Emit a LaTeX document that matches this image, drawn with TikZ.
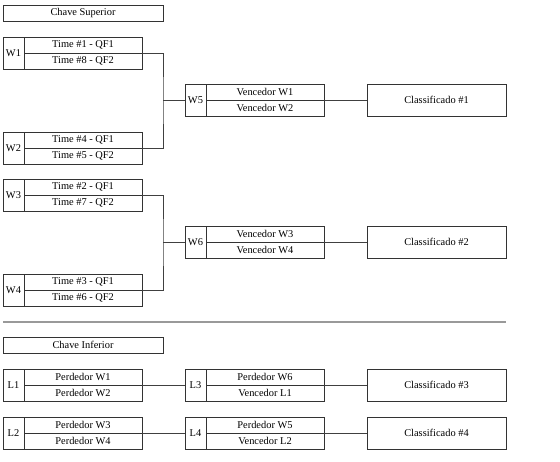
\documentclass[tikz,border=0pt]{standalone}
\usepackage{fontspec}
\setmainfont{Liberation Serif}
\begin{document}
\begin{tikzpicture}[x=1pt,y=-1pt,
  cell/.style={draw=black!80,line width=0.7pt,rectangle,inner sep=0pt,outer sep=0pt,anchor=north west,font=\fontsize{10.4}{12}\selectfont},
  link/.style={draw=black!75,line width=0.7pt},
  sep/.style={draw=black!40,line width=1.1pt}]
\useasboundingbox (0,0) rectangle (560,461);
\newcommand\matchbox[6]{%
  \node[cell,minimum width=21pt,minimum height=32pt] (#1lab) at (#2,#3) {#4};
  \node[cell,minimum width=118pt,minimum height=16pt] (#1a) at (#2+21,#3) {#5};
  \node[cell,minimum width=118pt,minimum height=16pt] (#1b) at (#2+21,#3+16) {#6};
}
\node[cell,minimum width=160pt,minimum height=16pt] (sup) at (3,5) {Chave Superior};
\matchbox{w1}{3}{37}{W1}{Time \#1 - QF1}{Time \#8 - QF2}
\matchbox{w2}{3}{132}{W2}{Time \#4 - QF1}{Time \#5 - QF2}
\matchbox{w3}{3}{179}{W3}{Time \#2 - QF1}{Time \#7 - QF2}
\matchbox{w4}{3}{274}{W4}{Time \#3 - QF1}{Time \#6 - QF2}
\matchbox{w5}{185}{84}{W5}{Vencedor W1}{Vencedor W2}
\matchbox{w6}{185}{226}{W6}{Vencedor W3}{Vencedor W4}
\node[cell,minimum width=139pt,minimum height=32pt] (c1) at (367,84) {Classificado \#1};
\node[cell,minimum width=139pt,minimum height=32pt] (c2) at (367,226) {Classificado \#2};
\coordinate (j1) at (163,100);
\coordinate (j2) at (163,242);
\draw[link] (w1a.south east) -| (j1) |- (w2a.south east);
\draw[link] (j1) -- (w5lab.west);
\draw[link] (w3a.south east) -| (j2) |- (w4a.south east);
\draw[link] (j2) -- (w6lab.west);
\draw[link] (w5a.south east) -- (c1.west);
\draw[link] (w6a.south east) -- (c2.west);
\coordinate (s1) at (3,322);
\coordinate (s2) at (506,322);
\draw[sep] (s1) -- (s2);
\node[cell,minimum width=160pt,minimum height=16pt] (inf) at (3,337) {Chave Inferior};
\matchbox{l1}{3}{369}{L1}{Perdedor W1}{Perdedor W2}
\matchbox{l2}{3}{417}{L2}{Perdedor W3}{Perdedor W4}
\matchbox{l3}{185}{369}{L3}{Perdedor W6}{Vencedor L1}
\matchbox{l4}{185}{417}{L4}{Perdedor W5}{Vencedor L2}
\node[cell,minimum width=139pt,minimum height=32pt] (c3) at (367,369) {Classificado \#3};
\node[cell,minimum width=139pt,minimum height=32pt] (c4) at (367,417) {Classificado \#4};
\draw[link] (l1a.south east) -- (l3lab.west);
\draw[link] (l2a.south east) -- (l4lab.west);
\draw[link] (l3a.south east) -- (c3.west);
\draw[link] (l4a.south east) -- (c4.west);
\end{tikzpicture}
\end{document}
